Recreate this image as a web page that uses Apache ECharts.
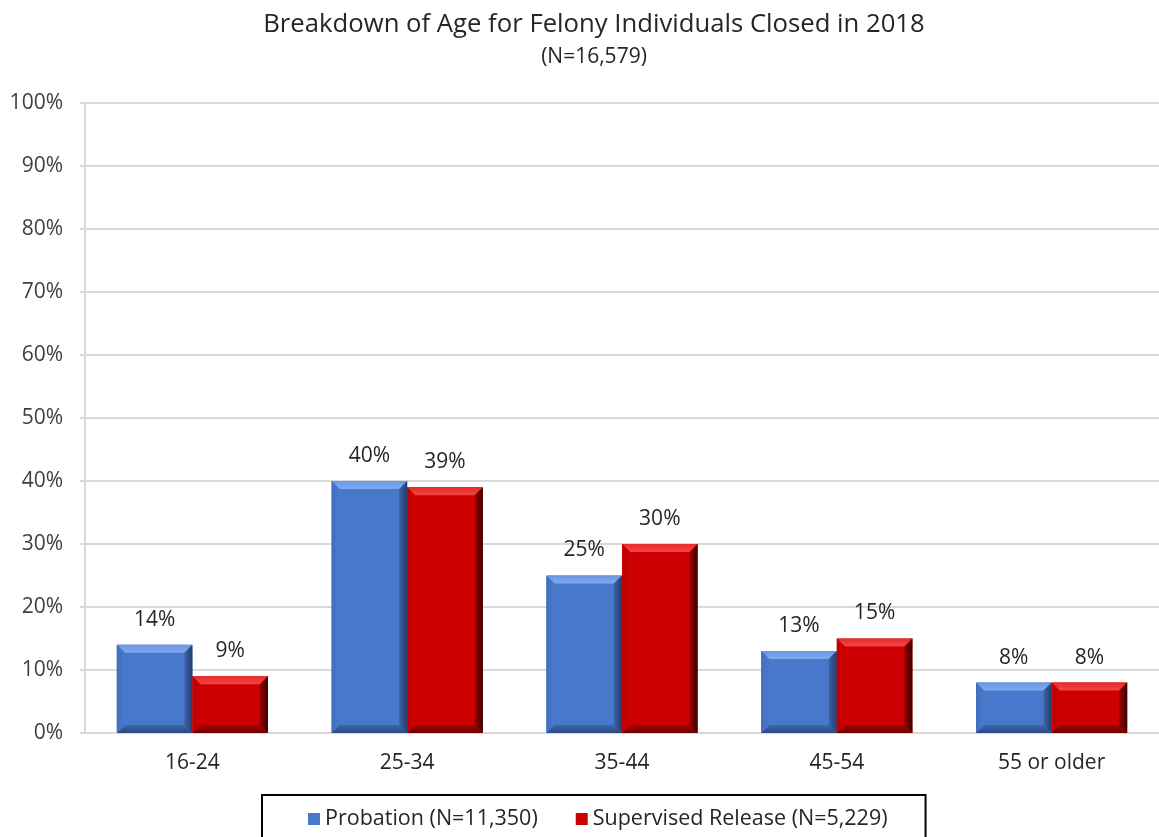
<!DOCTYPE html>
<html>
<head>
<meta charset="utf-8">
<script src="https://cdn.jsdelivr.net/npm/echarts@6/dist/echarts.min.js"></script>
<style>html,body{margin:0;padding:0;background:#fff}#c{width:1159px;height:837px}</style>
</head>
<body>
<div id="c"></div>
<script>
const categories = ['16-24', '25-34', '35-44', '45-54', '55 or older'];
const probation = [14, 40, 25, 13, 8];
const supervised = [9, 39, 30, 15, 8];
const seriesNames = ['Probation (N=11,350)', 'Supervised Release (N=5,229)'];
const yTicks = [0, 10, 20, 30, 40, 50, 60, 70, 80, 90, 100];
const titleText = 'Breakdown of Age for Felony Individuals Closed in 2018';
const subtitleText = '(N=16,579)';

const FONT = '"Open Sans", "Noto Sans", sans-serif';
const LG = echarts.graphic.LinearGradient;
const palettes = [
  {face: '#4878cc', top: ['#6a96e2', '#80aaf0'], left: ['#426fbd', '#4a7acd'], right: ['#3d62a6', '#213e70'], bottom: ['#3f66aa', '#2a4a82'], legend: '#4878cc'},
  {face: '#cc0000', top: ['#e82a2a', '#f24646'], left: ['#c00000', '#cc0000'], right: ['#9a0000', '#3a0000'], bottom: ['#a80000', '#6a0000'], legend: '#cc0000'}
];

function makeRender(si) {
  return function (params, api) {
    const ci = api.value(0), v = api.value(1);
    const c0 = api.coord([ci, 0]);
    const c1 = api.coord([ci, v]);
    const band = api.size([1, 0])[0];
    const bw = band * 0.352;
    const x0 = si === 0 ? c0[0] - bw : c0[0];
    const x1 = x0 + bw;
    const y0 = c1[1], y1 = c0[1];
    const b = Math.min(8, (y1 - y0) / 2);
    const p = palettes[si];
    const g = (a, x, y, x2, y2) => new LG(x, y, x2, y2, [{offset: 0, color: a[0]}, {offset: 1, color: a[1]}]);
    return {
      type: 'group',
      children: [
        {type: 'rect', shape: {x: x0, y: y0, width: bw, height: y1 - y0}, style: {fill: p.face}},
        {type: 'polygon', shape: {points: [[x0, y0], [x1, y0], [x1 - b, y0 + b], [x0 + b, y0 + b]]}, style: {fill: g(p.top, 0, 0, 0, 1)}},
        {type: 'polygon', shape: {points: [[x0, y1], [x1, y1], [x1 - b, y1 - b], [x0 + b, y1 - b]]}, style: {fill: g(p.bottom, 0, 0, 0, 1)}},
        {type: 'polygon', shape: {points: [[x0, y0], [x0 + b, y0 + b], [x0 + b, y1 - b], [x0, y1]]}, style: {fill: g(p.left, 0, 0, 1, 0)}},
        {type: 'polygon', shape: {points: [[x1, y0], [x1 - b, y0 + b], [x1 - b, y1 - b], [x1, y1]]}, style: {fill: g(p.right, 0, 0, 1, 0)}},
        {type: 'text', style: {text: v + '%', x: (x0 + x1) / 2, y: y0 - 25, align: 'center', verticalAlign: 'middle', fill: '#262626', font: '21px ' + FONT}}
      ]
    };
  };
}

const chart = echarts.init(document.getElementById('c'), null, {renderer: 'canvas'});
chart.setOption({
  backgroundColor: '#fff',
  animation: false,
  graphic: [
    {type: 'text', x: 594, y: 25, style: {text: titleText, align: 'center', verticalAlign: 'middle', fill: '#262626', font: '25.7px ' + FONT}},
    {type: 'text', x: 594, y: 57, style: {text: subtitleText, align: 'center', verticalAlign: 'middle', fill: '#262626', font: '21px ' + FONT}}
  ],
  grid: {left: 85, right: -9, top: 103, height: 630, containLabel: false},
  legend: {
    left: 262, top: 795,
    data: seriesNames.map((n, i) => ({name: n, icon: 'rect', itemStyle: {color: palettes[i].legend}})),
    itemWidth: 12, itemHeight: 12, itemGap: 38,
    padding: [13, 38, 20, 46],
    borderColor: '#000', borderWidth: 2,
    textStyle: {fontSize: 21.5, color: '#262626', fontFamily: FONT}
  },
  xAxis: {
    type: 'category', data: categories,
    axisLine: {lineStyle: {color: '#d9d9d9', width: 2}},
    axisTick: {show: false},
    axisLabel: {fontSize: 21, color: '#262626', fontFamily: FONT, margin: 20}
  },
  yAxis: {
    type: 'value', min: 0, max: 100, interval: 10,
    axisLine: {show: true, lineStyle: {color: '#d9d9d9', width: 2}},
    axisTick: {show: true, length: 5, lineStyle: {color: '#d9d9d9', width: 2}},
    splitLine: {lineStyle: {color: '#d9d9d9', width: 2}},
    axisLabel: {fontSize: 21, color: '#404040', fontFamily: FONT, margin: 22, formatter: v => v + '%'}
  },
  series: [
    {name: seriesNames[0], type: 'custom', renderItem: makeRender(0), data: probation.map((v, i) => [i, v]), itemStyle: {color: palettes[0].legend}},
    {name: seriesNames[1], type: 'custom', renderItem: makeRender(1), data: supervised.map((v, i) => [i, v]), itemStyle: {color: palettes[1].legend}}
  ]
});
</script>
</body>
</html>
